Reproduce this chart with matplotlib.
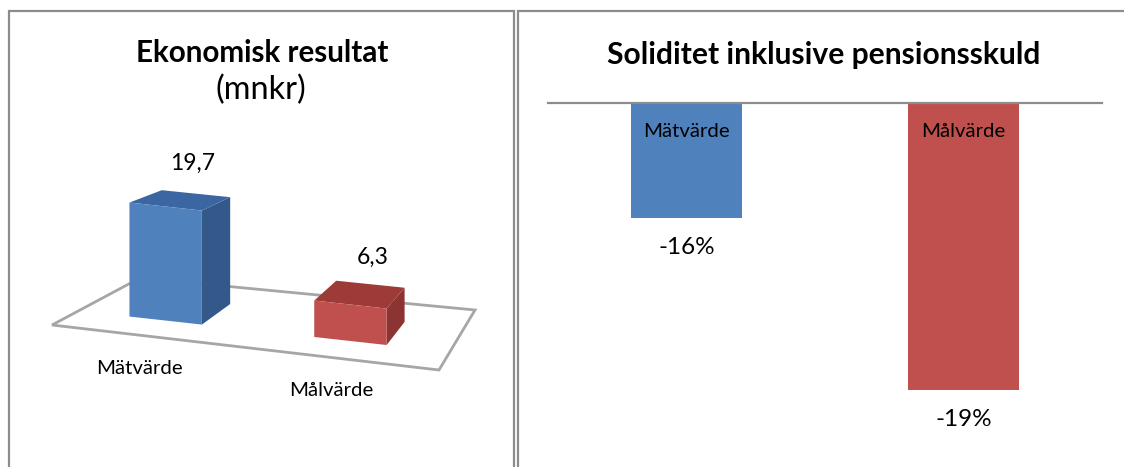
import numpy as np
import matplotlib
matplotlib.use("Agg")
import matplotlib.pyplot as plt
from matplotlib.patches import Polygon

plt.rcParams['font.family'] = ['Lato', 'DejaVu Sans']

# Ekonomisk resultat (mnkr)
kategorier = ["Mätvärde", "Målvärde"]
resultat = [19.7, 6.3]
resultat_txt = ["19,7", "6,3"]

# Soliditet inklusive pensionsskuld (%)
soliditet = [-16, -19]
soliditet_txt = ["-16%", "-19%"]

bla = "#4F81BD"
rod = "#C0504D"
farger_front = [bla, rod]
farger_sida = ["#33588A", "#8C3432"]
farger_topp = ["#3C66A1", "#9C3B38"]
ram = "#8C8C8C"

W, H = 1124, 467
fig = plt.figure(figsize=(W / 100, H / 100), dpi=100)
bg = fig.add_axes([0, 0, 1, 1])
bg.set_xlim(0, W)
bg.set_ylim(H, 0)
bg.axis("off")

# ramar runt diagrammen
bg.plot([9, 9, 514, 514], [H + 5, 10.5, 10.5, H + 5], color=ram, lw=1.6, solid_joinstyle="miter")
bg.plot([517.5, 517.5, W + 5], [H + 5, 10.5, 10.5], color=ram, lw=1.6, solid_joinstyle="miter")

# ---- vänster: 3D-stapel ----
# golvets hörn (fram-vänster, fram-höger, bak-höger, bak-vänster)
FL, FR, BR, BL = map(np.array, [(52, 325), (439, 370), (475, 310), (140, 278)])
k0 = 6.06  # pixlar per mnkr vid golvets framkant


def proj(u, w, h):
    p = (1 - u) * (1 - w) * FL + u * (1 - w) * FR + u * w * BR + (1 - u) * w * BL
    return p[0], p[1] - h * k0 * (1 - 0.15 * w)


golv = [proj(0, 0, 0), proj(1, 0, 0), proj(1, 1, 0), proj(0, 1, 0)]
bg.add_patch(Polygon(golv, closed=True, facecolor="white", edgecolor="#A6A6A6", lw=2))

bredd = 0.195
w0, w1 = 0.3, 0.7
for i, v in enumerate(resultat):
    uc = 0.235 + i * 0.4975
    u0, u1 = uc - bredd / 2, uc + bredd / 2
    sida = [proj(u1, w0, 0), proj(u1, w1, 0), proj(u1, w1, v), proj(u1, w0, v)]
    topp = [proj(u0, w0, v), proj(u1, w0, v), proj(u1, w1, v), proj(u0, w1, v)]
    front = [proj(u0, w0, 0), proj(u1, w0, 0), proj(u1, w0, v), proj(u0, w0, v)]
    bg.add_patch(Polygon(sida, closed=True, facecolor=farger_sida[i], edgecolor="none"))
    bg.add_patch(Polygon(topp, closed=True, facecolor=farger_topp[i], edgecolor="none"))
    bg.add_patch(Polygon(front, closed=True, facecolor=farger_front[i], edgecolor="none"))
    lx, ly = proj(uc, 0.5, v)
    bg.text(lx + 12, ly - 37, resultat_txt[i], ha="center", va="center", fontsize=16.5)
    kx, ky = proj(uc, 0, 0)
    bg.text(kx - 4, ky + 33, kategorier[i], ha="center", va="center", fontsize=14.7)

bg.text(262, 53, "Ekonomisk resultat", ha="center", va="center", fontsize=21.3, fontweight="bold")
bg.text(261, 90, "(mnkr)", ha="center", va="center", fontsize=23.4)

# ---- höger: stapeldiagram nedåt ----
topp_varde = -14
ax = fig.add_axes([548 / W, (H - 447) / H, (1102 - 548) / W, (447 - 103) / H])
ax.set_xlim(-0.5, 1.5)
ax.set_ylim(-20, topp_varde)
ax.axis("off")
x = np.arange(len(kategorier))
ax.bar(x, [s - topp_varde for s in soliditet], bottom=topp_varde, width=0.4,
       color=farger_front)
ax.axhline(topp_varde, color=ram, lw=1.6, clip_on=False)
for i, s in enumerate(soliditet):
    ax.annotate(kategorier[i], (x[i], topp_varde), xytext=(0, -20.5), textcoords="offset points",
                ha="center", va="center", fontsize=14.7)
    ax.annotate(soliditet_txt[i], (x[i], s), xytext=(0, -21.5), textcoords="offset points",
                ha="center", va="center", fontsize=17.5)

bg.text(824, 55, "Soliditet inklusive pensionsskuld", ha="center", va="center",
        fontsize=21.6, fontweight="bold")

fig.savefig("out.png", dpi=100)
